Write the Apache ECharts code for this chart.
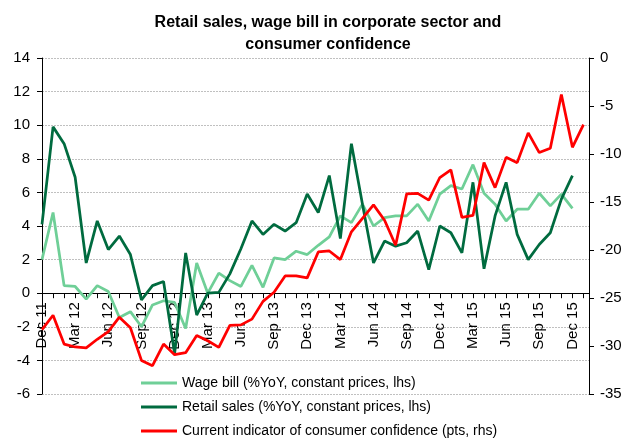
<!DOCTYPE html>
<html>
<head>
<meta charset="utf-8">
<script src="https://cdn.jsdelivr.net/npm/echarts@6/dist/echarts.min.js"></script>
<style>
  html, body { margin: 0; padding: 0; background: #fff; }
  #chart { width: 627px; height: 439px; }
</style>
</head>
<body>
<div id="chart"></div>
<script>
// monthly, Dec 11 .. Jan 16
const months = [
  'Dec 11', 'Jan 12', 'Feb 12', 'Mar 12', 'Apr 12', 'May 12', 'Jun 12', 'Jul 12', 'Aug 12', 'Sep 12', 'Oct 12', 'Nov 12',
  'Dec 12', 'Jan 13', 'Feb 13', 'Mar 13', 'Apr 13', 'May 13', 'Jun 13', 'Jul 13', 'Aug 13', 'Sep 13', 'Oct 13', 'Nov 13',
  'Dec 13', 'Jan 14', 'Feb 14', 'Mar 14', 'Apr 14', 'May 14', 'Jun 14', 'Jul 14', 'Aug 14', 'Sep 14', 'Oct 14', 'Nov 14',
  'Dec 14', 'Jan 15', 'Feb 15', 'Mar 15', 'Apr 15', 'May 15', 'Jun 15', 'Jul 15', 'Aug 15', 'Sep 15', 'Oct 15', 'Nov 15',
  'Dec 15', 'Jan 16'
];

const wageBill = [
  2.0, 4.8, 0.45, 0.4, -0.35, 0.45, 0.1, -1.45, -1.1, -2.0, -0.7, -0.45,
  -0.55, -2.1, 1.8, 0.0, 1.2, 0.75, 0.4, 1.65, 0.35, 2.1, 2.0, 2.5,
  2.3, 2.85, 3.35, 4.6, 4.2, 5.3, 4.0, 4.5, 4.6, 4.6, 5.3, 4.3,
  5.9, 6.4, 6.2, 7.65, 5.95, 5.3, 4.3, 5.0, 5.0, 5.95, 5.2, 5.9,
  5.05
];

const retailSales = [
  4.1, 9.9, 8.9, 6.9, 1.8, 4.3, 2.6, 3.4, 2.3, -0.4, 0.45, 0.7,
  -3.6, 2.4, -1.3, 0.0, 0.05, 1.15, 2.65, 4.3, 3.5, 4.1, 3.7, 4.2,
  5.9, 4.8, 7.0, 3.25, 8.9, 5.3, 1.8, 3.1, 2.8, 3.0, 3.7, 1.4,
  4.0, 3.6, 2.4, 6.6, 1.45, 4.6, 6.6, 3.5, 2.0, 2.9, 3.6, 5.6,
  7.0
];

const confidence = [
  -28.3, -26.8, -29.8, -30.1, -30.2, -29.3, -28.5, -27.0, -28.1, -31.5, -32.05, -29.8,
  -30.9, -30.7, -28.9, -29.45, -30.15, -27.85, -27.8, -27.2, -25.35, -24.4, -22.7, -22.7,
  -22.9, -20.2, -20.1, -21.0, -18.1, -16.7, -15.3, -16.9, -19.5, -14.15, -14.1, -14.8,
  -12.45, -11.65, -16.6, -16.4, -10.9, -13.5, -10.35, -10.9, -7.8, -9.85, -9.4, -3.8,
  -9.3, -6.95
];

const FONT = '"Liberation Sans", Arial, sans-serif';

const GRID = { left: 42, right: 38, top: 58, bottom: 45 };
const LHS_MIN = -6;
const LHS_MAX = 14;

// the x axis sits on the lhs zero line
const plotH = 439 - GRID.top - GRID.bottom;
const zeroOffset = -plotH * (0 - LHS_MIN) / (LHS_MAX - LHS_MIN);

const toPoints = (arr) => arr.map((v, i) => [i, v]);

const chart = echarts.init(document.getElementById('chart'), null, { renderer: 'canvas' });

const option = {
  animation: false,
  backgroundColor: '#fff',
  textStyle: { fontFamily: FONT, color: '#000' },
  title: {
    text: 'Retail sales, wage bill in corporate sector and\nconsumer confidence',
    left: 323,
    top: 7,
    textAlign: 'center',
    textStyle: { fontFamily: FONT, fontSize: 16, fontWeight: 'bold', color: '#000', lineHeight: 22 }
  },
  legend: {
    orient: 'vertical',
    left: 141,
    top: 375,
    height: 70,
    padding: 0,
    itemWidth: 36,
    itemHeight: 3,
    itemGap: 8,
    icon: 'rect',
    textStyle: { fontFamily: FONT, fontSize: 14, color: '#000', lineHeight: 16 },
    data: [
      'Wage bill (%YoY, constant prices, lhs)',
      'Retail sales (%YoY, constant prices, lhs)',
      'Current indicator of consumer confidence (pts, rhs)'
    ]
  },
  grid: GRID,
  xAxis: {
    type: 'value',
    min: 0,
    max: 49.5,
    interval: 1,
    offset: zeroOffset,
    axisLine: { onZero: false, lineStyle: { color: '#000', width: 1 } },
    axisTick: { show: true, inside: false, length: 5, lineStyle: { color: '#000' } },
    splitLine: { show: false },
    axisLabel: {
      rotate: 90,
      margin: 9,
      fontSize: 15,
      fontFamily: FONT,
      color: '#000',
      showMinLabel: true,
      showMaxLabel: true,
      formatter: (v) => (Number.isInteger(v) && v % 3 === 0 && months[v] && v < 49) ? months[v] : ''
    }
  },
  yAxis: [
    {
      type: 'value',
      min: LHS_MIN,
      max: LHS_MAX,
      interval: 2,
      axisLine: { show: true, onZero: false, lineStyle: { color: '#000' } },
      axisTick: { show: true, length: 5, lineStyle: { color: '#000' } },
      axisLabel: { margin: 12, fontSize: 15, fontFamily: FONT, color: '#000' },
      splitLine: { show: true, lineStyle: { color: '#c0c0c0', type: [2, 1], width: 1 } }
    },
    {
      type: 'value',
      min: -35,
      max: 0,
      interval: 5,
      position: 'right',
      axisLine: { show: true, onZero: false, lineStyle: { color: '#000' } },
      axisTick: { show: true, length: 5, lineStyle: { color: '#000' } },
      axisLabel: { margin: 11, fontSize: 15, fontFamily: FONT, color: '#000' },
      splitLine: { show: false }
    }
  ],
  series: [
    {
      name: 'Wage bill (%YoY, constant prices, lhs)',
      type: 'line',
      yAxisIndex: 0,
      data: toPoints(wageBill),
      symbol: 'none',
      lineStyle: { color: '#6fcf97', width: 2.75 },
      itemStyle: { color: '#6fcf97' },
      z: 2
    },
    {
      name: 'Retail sales (%YoY, constant prices, lhs)',
      type: 'line',
      yAxisIndex: 0,
      data: toPoints(retailSales),
      symbol: 'none',
      lineStyle: { color: '#006b3f', width: 2.75 },
      itemStyle: { color: '#006b3f' },
      z: 3
    },
    {
      name: 'Current indicator of consumer confidence (pts, rhs)',
      type: 'line',
      yAxisIndex: 1,
      data: toPoints(confidence),
      symbol: 'none',
      lineStyle: { color: '#ff0000', width: 2.75 },
      itemStyle: { color: '#ff0000' },
      z: 4
    }
  ]
};

chart.setOption(option);
</script>
</body>
</html>
